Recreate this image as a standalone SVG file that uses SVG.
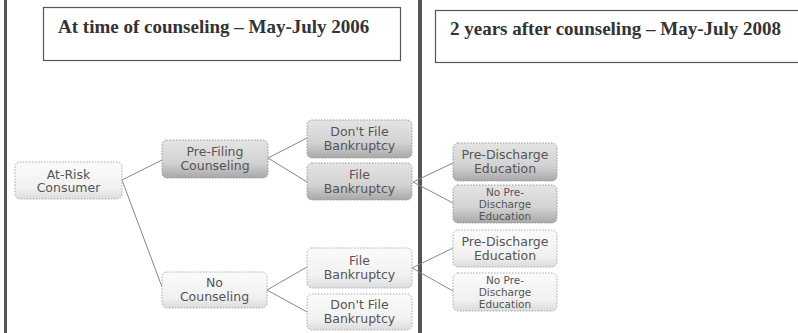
<svg xmlns="http://www.w3.org/2000/svg" width="798" height="333" viewBox="0 0 798 333">
<defs>
<linearGradient id="gLight" x1="0" y1="0" x2="0" y2="1">
<stop offset="0" stop-color="#fbfbfb"/>
<stop offset="0.7" stop-color="#f1f1f1"/>
<stop offset="1" stop-color="#dcdcdc"/>
</linearGradient>
<linearGradient id="gDark" x1="0" y1="0" x2="0" y2="1">
<stop offset="0" stop-color="#e4e4e4"/>
<stop offset="0.6" stop-color="#d2d2d2"/>
<stop offset="1" stop-color="#a8a8a8"/>
</linearGradient>
</defs>
<style>
.bar{fill:#555}
.title{fill:#fff;stroke:#555;stroke-width:1.2}
.ttext{font-family:"Liberation Serif","Times New Roman",serif;font-weight:bold;font-size:19px;fill:#333}
.light{fill:url(#gLight);stroke:#aaa;stroke-width:1;stroke-dasharray:1.5 1.5}
.dark{fill:url(#gDark);stroke:#999;stroke-width:1;stroke-dasharray:1.5 1.5}
.nt{font-family:"DejaVu Sans",Verdana,sans-serif;font-size:12.5px;fill:#555;text-anchor:middle}
.nt3{font-family:"DejaVu Sans",Verdana,sans-serif;font-size:10.5px;fill:#555;text-anchor:middle}
.conn line{stroke:#888;stroke-width:1}
</style>
<rect width="798" height="333" fill="#fff"/>
<rect class="bar" x="4" y="0" width="3" height="333"/>
<rect class="bar" x="418" y="0" width="4" height="333"/>
<g id="title-left">
<rect class="title" x="43.5" y="7.5" width="357" height="53"/>
<text class="ttext" x="58" y="33">At time of counseling – May-July 2006</text>
</g>
<g id="title-right">
<rect class="title" x="435.5" y="10.5" width="380" height="52"/>
<text class="ttext" x="450" y="35">2 years after counseling – May-July 2008</text>
</g>
<g id="connectors" class="conn">
<line x1="122" y1="180" x2="162" y2="160"/>
<line x1="122" y1="180" x2="162" y2="287"/>
<line x1="268" y1="158" x2="307" y2="138"/>
<line x1="268" y1="158" x2="307" y2="182"/>
<line x1="267" y1="290" x2="307" y2="267"/>
<line x1="267" y1="290" x2="307" y2="312"/>
<line x1="413" y1="182" x2="453" y2="163"/>
<line x1="413" y1="182" x2="453" y2="203"/>
<line x1="412" y1="268" x2="453" y2="248"/>
<line x1="412" y1="268" x2="453" y2="291"/>
</g>
<g id="at-risk">
<rect class="light" x="15" y="162" width="107" height="37" rx="5"/>
<text class="nt" x="68.5" y="178.5">At-Risk</text>
<text class="nt" x="68.5" y="192">Consumer</text>
</g>
<g id="pre-filing">
<rect class="dark" x="162" y="140" width="106" height="38" rx="5"/>
<text class="nt" x="215" y="156">Pre-Filing</text>
<text class="nt" x="215" y="170">Counseling</text>
</g>
<g id="no-counseling">
<rect class="light" x="162" y="272" width="105" height="36" rx="5"/>
<text class="nt" x="214.5" y="287">No</text>
<text class="nt" x="214.5" y="301">Counseling</text>
</g>
<g id="dont-file-1">
<rect class="dark" x="307" y="120" width="105" height="38" rx="5"/>
<text class="nt" x="359.5" y="136">Don't File</text>
<text class="nt" x="359.5" y="150">Bankruptcy</text>
</g>
<g id="file-1">
<rect class="dark" x="307" y="163" width="105" height="37" rx="5"/>
<text class="nt" x="359.5" y="179">File</text>
<text class="nt" x="359.5" y="193">Bankruptcy</text>
</g>
<g id="file-2">
<rect class="light" x="307" y="248" width="105" height="40" rx="5"/>
<text class="nt" x="359.5" y="265">File</text>
<text class="nt" x="359.5" y="279">Bankruptcy</text>
</g>
<g id="dont-file-2">
<rect class="light" x="307" y="294" width="105" height="36" rx="5"/>
<text class="nt" x="359.5" y="309">Don't File</text>
<text class="nt" x="359.5" y="323">Bankruptcy</text>
</g>
<g id="pre-discharge-1">
<rect class="dark" x="453" y="143" width="104" height="38" rx="5"/>
<text class="nt" x="505" y="159">Pre-Discharge</text>
<text class="nt" x="505" y="173">Education</text>
</g>
<g id="no-pre-discharge-1">
<rect class="dark" x="453" y="185" width="104" height="38" rx="5"/>
<text class="nt3" x="505" y="196">No Pre-</text>
<text class="nt3" x="505" y="208">Discharge</text>
<text class="nt3" x="505" y="220">Education</text>
</g>
<g id="pre-discharge-2">
<rect class="light" x="453" y="230" width="104" height="37" rx="5"/>
<text class="nt" x="505" y="246">Pre-Discharge</text>
<text class="nt" x="505" y="260">Education</text>
</g>
<g id="no-pre-discharge-2">
<rect class="light" x="453" y="273" width="104" height="38" rx="5"/>
<text class="nt3" x="505" y="284">No Pre-</text>
<text class="nt3" x="505" y="296">Discharge</text>
<text class="nt3" x="505" y="308">Education</text>
</g>
</svg>
